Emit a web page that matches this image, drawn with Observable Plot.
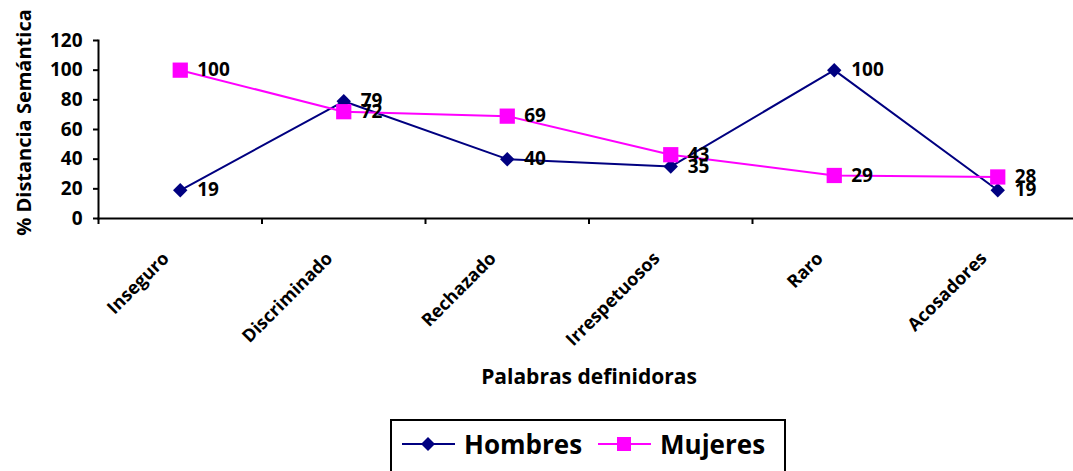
<!DOCTYPE html>
<html>
<head>
<meta charset="utf-8">
<script src="https://cdn.jsdelivr.net/npm/d3@7"></script>
<script src="https://cdn.jsdelivr.net/npm/@observablehq/plot@0.6"></script>
<style>
  html, body { margin: 0; padding: 0; background: #fff; overflow: hidden; }
  body { width: 1073px; height: 471px; position: relative; font-family: "Open Sans", Lato, sans-serif; }
  #chart { position: absolute; left: 0; top: 0; }
  #legend {
    position: absolute; left: 390px; top: 419px; width: 396px; height: 60px;
    border: 2px solid #000; box-sizing: border-box; display: flex; align-items: flex-start;
    padding-top: 5px; padding-left: 10px;
  }
  .item { display: flex; align-items: center; font-weight: 700; font-size: 26px; line-height: 36px; color: #000; }
  .item + .item { margin-left: 16px; }
  .item svg { margin-right: 9px; }
</style>
</head>
<body>
<div id="chart"></div>
<div id="legend"></div>
<script>
const categories = ["Inseguro", "Discriminado", "Rechazado", "Irrespetuosos", "Raro", "Acosadores"];
const hombres = [19, 79, 40, 35, 100, 19];
const mujeres = [100, 72, 69, 43, 29, 28];
const yTicks = [0, 20, 40, 60, 80, 100, 120];
const seriesNames = ["Hombres", "Mujeres"];
const seriesColors = ["#000080", "#FF00FF"];

const idx = categories.map((_, i) => i);
const edges = categories.slice(0, -1).map((_, i) => i - 0.5);
const data = categories.map((c, i) => ({i, c, h: hombres[i], m: mujeres[i]}));
const font = "'Open Sans', Lato, sans-serif";

const chart = Plot.plot({
  width: 1073,
  height: 410,
  marginLeft: 98,
  marginRight: -6,
  marginTop: 40,
  marginBottom: 192,
  style: {fontFamily: font, background: "#fff"},
  x: {domain: [-0.5, 5.5], axis: null},
  y: {domain: [0, 120], axis: null},
  marks: [
    Plot.axisY({ticks: yTicks, tickSize: 5, tickPadding: 11, fontSize: 19, fontWeight: 700, stroke: "#000", strokeWidth: 2, color: "#000", label: null}),
    Plot.axisX({ticks: edges, tickSize: 6, tickFormat: () => "", stroke: "#000", strokeWidth: 2, label: null}),
    Plot.text(data, {x: "i", text: "c", frameAnchor: "bottom", rotate: -45, textAnchor: "end", lineAnchor: "bottom", dx: -10, dy: 41, fontSize: 18, fontWeight: 700, fill: "#000"}),
    Plot.frame({anchor: "left", stroke: "#000", strokeWidth: 2}),
    Plot.frame({anchor: "bottom", stroke: "#000", strokeWidth: 2}),
    Plot.lineY(data, {x: "i", y: "h", stroke: seriesColors[0], strokeWidth: 2}),
    Plot.lineY(data, {x: "i", y: "m", stroke: seriesColors[1], strokeWidth: 2}),
    Plot.dot(data, {x: "i", y: "h", symbol: "diamond2", r: 6.5, fill: seriesColors[0], stroke: "none"}),
    Plot.dot(data, {x: "i", y: "m", symbol: "square", r: 8.6, fill: seriesColors[1], stroke: "none"}),
    Plot.text(data, {x: "i", y: "h", text: "h", dx: 17, textAnchor: "start", fontSize: 19, fontWeight: 700, fill: "#000"}),
    Plot.text(data, {x: "i", y: "m", text: "m", dx: 17, textAnchor: "start", fontSize: 19, fontWeight: 700, fill: "#000"}),
    Plot.text(["% Distancia Semántica"], {frameAnchor: "left", textAnchor: "middle", rotate: -90, dx: -74, dy: -7, fontSize: 20, fontWeight: 700, fill: "#000"}),
    Plot.text(["Palabras definidoras"], {frameAnchor: "bottom", textAnchor: "middle", dy: 165, fontSize: 21, fontWeight: 700, fill: "#000"})
  ]
});
document.getElementById("chart").appendChild(chart);

const legend = document.getElementById("legend");
seriesNames.forEach((name, k) => {
  const item = document.createElement("div");
  item.className = "item";
  const sym = k === 0
    ? `<path d="M26,3 L33,10 L26,17 L19,10 Z" fill="${seriesColors[k]}"/>`
    : `<rect x="19" y="3" width="14" height="14" fill="${seriesColors[k]}"/>`;
  item.innerHTML = `<svg width="53" height="20"><line x1="0" x2="53" y1="10" y2="10" stroke="${seriesColors[k]}" stroke-width="2"/>${sym}</svg><span>${name}</span>`;
  legend.appendChild(item);
});
</script>
</body>
</html>
